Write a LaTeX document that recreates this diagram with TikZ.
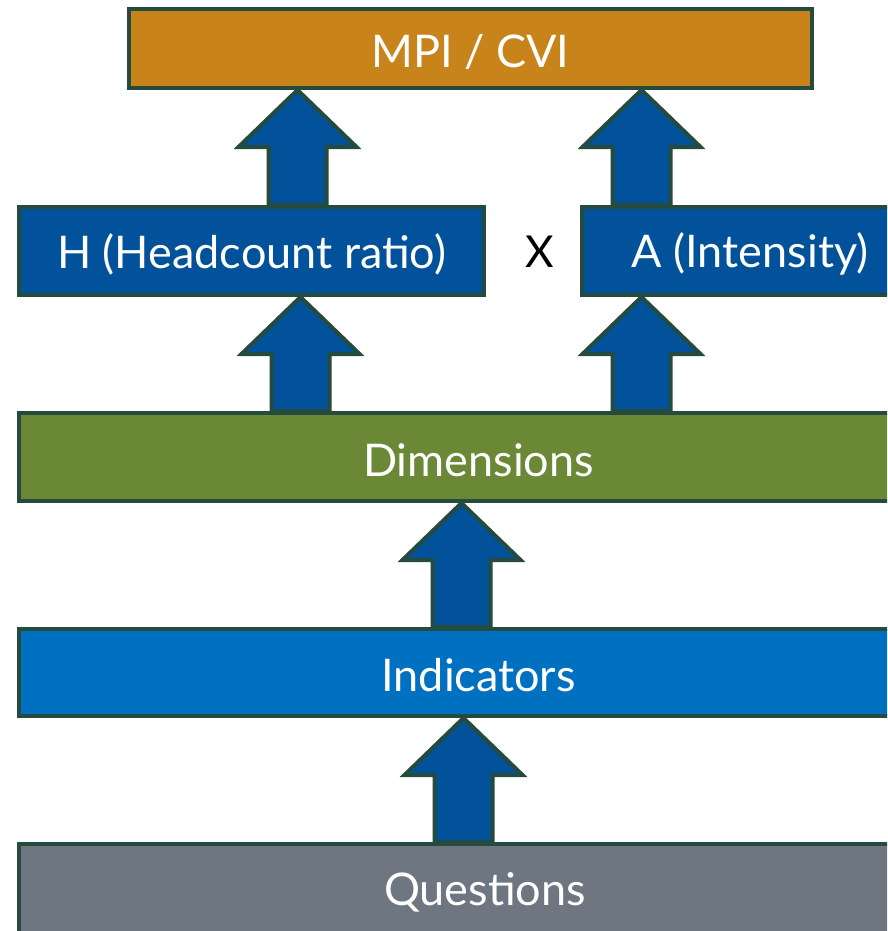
\documentclass[tikz,border=0pt]{standalone}
\usepackage{fontspec}
\setmainfont{Lato}
\usetikzlibrary{calc}
\definecolor{bordc}{HTML}{254A3E}
\definecolor{mpic}{HTML}{C8841A}
\definecolor{hac}{HTML}{02529B}
\definecolor{dimc}{HTML}{6A8836}
\definecolor{indc}{HTML}{0070C0}
\definecolor{qc}{HTML}{6D7681}
\newcommand\lowtxt[1]{\raisebox{-3pt}[\height][\depth]{#1}}
\tikzset{
  box/.style={draw=bordc, line width=4pt, rectangle, text=white, inner sep=0pt,
    font=\fontsize{45}{52}\selectfont},
  barrowstyle/.style={draw=bordc, fill=hac, line width=4pt, line join=miter}
}
\newcommand\barrow[3]{\draw[barrowstyle] let \p1=(#2.north), \p2=(#3.south) in
  ({#1pt-29pt},\y1) -- ({#1pt-29pt},{\y2-57pt}) -- ({#1pt-59pt},{\y2-57pt}) -- (#1pt,\y2)
  -- ({#1pt+59pt},{\y2-57pt}) -- ({#1pt+29pt},{\y2-57pt}) -- ({#1pt+29pt},\y1) -- cycle;}
\begin{document}
\begin{tikzpicture}[x=1pt,y=-1pt]
\useasboundingbox (0,0) rectangle (887,931);
\clip (0,0) rectangle (887,931);
\node[box, fill=mpic, minimum width=683pt, minimum height=79pt] (mpi) at (470.5,48.5) {\lowtxt{MPI / CVI}};
\node[box, fill=hac, minimum width=465pt, minimum height=88pt] (h) at (251.5,251) {\lowtxt{H (Headcount ratio)}};
\node[box, fill=hac, minimum width=336pt, minimum height=88pt] (a) at (750,251) {\lowtxt{A (Intensity)}};
\node[font=\fontsize{44}{50}\selectfont, text=black] (x) at (540,252) {X};
\node[box, fill=dimc, minimum width=919pt, minimum height=88pt] (dim) at (478.5,457) {\lowtxt{Dimensions}};
\node[box, fill=indc, minimum width=919pt, minimum height=87pt] (ind) at (478.5,672.5) {\lowtxt{Indicators}};
\node[box, fill=qc, minimum width=933pt, minimum height=90pt] (q) at (485,889) {\lowtxt{Questions}};
\barrow{297.5}{h}{mpi}
\barrow{641.5}{a}{mpi}
\barrow{300.5}{dim}{h}
\barrow{641.5}{dim}{a}
\barrow{461.5}{ind}{dim}
\barrow{463.5}{q}{ind}
\end{tikzpicture}
\end{document}
